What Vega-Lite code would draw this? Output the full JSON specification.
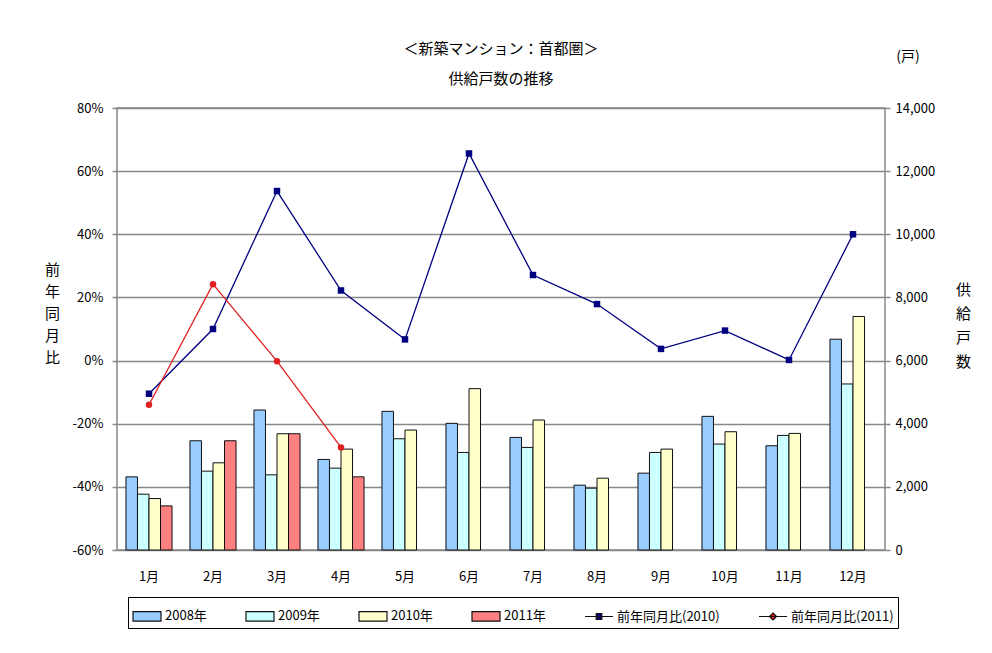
{
  "$schema": "https://vega.github.io/schema/vega-lite/v6.json",
  "width": 768,
  "height": 442,
  "autosize": {"type": "none"},
  "padding": {"left": 117, "top": 108, "right": 107, "bottom": 103},
  "background": "white",
  "config": {
    "font": "Noto Sans CJK JP",
    "view": {"stroke": "#888888", "strokeWidth": 1.5},
    "axis": {"labelFont": "Noto Sans CJK JP", "labelFontSize": 13, "labelColor": "#000", "titleFont": "Noto Sans CJK JP", "titleFontWeight": "normal", "titleColor": "#000"},
    "legend": {"symbolType": "M-1,-0.34H1V0.34H-1Z"}
  },
  "title": {
    "text": ["＜新築マンション：首都圏＞", "供給戸数の推移"],
    "fontSize": 15, "fontWeight": "normal", "lineHeight": 30, "offset": -37, "anchor": "middle", "color": "#000", "font": "Noto Sans CJK JP"
  },
  "datasets": {
    "bars": [
      {"month": "1月", "series": "2008年", "count": 2317}, {"month": "1月", "series": "2009年", "count": 1768}, {"month": "1月", "series": "2010年", "count": 1630}, {"month": "1月", "series": "2011年", "count": 1397},
      {"month": "2月", "series": "2008年", "count": 3460}, {"month": "2月", "series": "2009年", "count": 2497}, {"month": "2月", "series": "2010年", "count": 2762}, {"month": "2月", "series": "2011年", "count": 3460},
      {"month": "3月", "series": "2008年", "count": 4434}, {"month": "3月", "series": "2009年", "count": 2381}, {"month": "3月", "series": "2010年", "count": 3683}, {"month": "3月", "series": "2011年", "count": 3683},
      {"month": "4月", "series": "2008年", "count": 2868}, {"month": "4月", "series": "2009年", "count": 2593}, {"month": "4月", "series": "2010年", "count": 3196}, {"month": "4月", "series": "2011年", "count": 2317},
      {"month": "5月", "series": "2008年", "count": 4392}, {"month": "5月", "series": "2009年", "count": 3524}, {"month": "5月", "series": "2010年", "count": 3799},
      {"month": "6月", "series": "2008年", "count": 4011}, {"month": "6月", "series": "2009年", "count": 3090}, {"month": "6月", "series": "2010年", "count": 5111},
      {"month": "7月", "series": "2008年", "count": 3566}, {"month": "7月", "series": "2009年", "count": 3249}, {"month": "7月", "series": "2010年", "count": 4117},
      {"month": "8月", "series": "2008年", "count": 2053}, {"month": "8月", "series": "2009年", "count": 1958}, {"month": "8月", "series": "2010年", "count": 2275},
      {"month": "9月", "series": "2008年", "count": 2434}, {"month": "9月", "series": "2009年", "count": 3090}, {"month": "9月", "series": "2010年", "count": 3196},
      {"month": "10月", "series": "2008年", "count": 4233}, {"month": "10月", "series": "2009年", "count": 3355}, {"month": "10月", "series": "2010年", "count": 3746},
      {"month": "11月", "series": "2008年", "count": 3302}, {"month": "11月", "series": "2009年", "count": 3630}, {"month": "11月", "series": "2010年", "count": 3693},
      {"month": "12月", "series": "2008年", "count": 6677}, {"month": "12月", "series": "2009年", "count": 5259}, {"month": "12月", "series": "2010年", "count": 7397}
    ],
    "lines": [
      {"month": "1月", "series": "前年同月比(2010)", "pct": -10.5}, {"month": "2月", "series": "前年同月比(2010)", "pct": 10}, {"month": "3月", "series": "前年同月比(2010)", "pct": 53.7}, {"month": "4月", "series": "前年同月比(2010)", "pct": 22.2},
      {"month": "5月", "series": "前年同月比(2010)", "pct": 6.7}, {"month": "6月", "series": "前年同月比(2010)", "pct": 65.6}, {"month": "7月", "series": "前年同月比(2010)", "pct": 27.1}, {"month": "8月", "series": "前年同月比(2010)", "pct": 17.9},
      {"month": "9月", "series": "前年同月比(2010)", "pct": 3.7}, {"month": "10月", "series": "前年同月比(2010)", "pct": 9.5}, {"month": "11月", "series": "前年同月比(2010)", "pct": 0.2}, {"month": "12月", "series": "前年同月比(2010)", "pct": 40.0},
      {"month": "1月", "series": "前年同月比(2011)", "pct": -14}, {"month": "2月", "series": "前年同月比(2011)", "pct": 24.2}, {"month": "3月", "series": "前年同月比(2011)", "pct": -0.2}, {"month": "4月", "series": "前年同月比(2011)", "pct": -27.5}
    ],
    "unit": [{"label": "(戸)"}]
  },
  "layer": [
    {
      "layer": [
        {
          "data": {"name": "bars"},
          "mark": {"type": "bar", "stroke": "#111111", "strokeWidth": 1},
          "encoding": {
            "x": {"field": "month", "type": "nominal", "scale": {"domain": ["1月","2月","3月","4月","5月","6月","7月","8月","9月","10月","11月","12月"], "paddingInner": 0.28, "paddingOuter": 0.14},
                  "axis": {"title": null, "domain": false, "ticks": false, "labelPadding": 20, "labelAngle": 0, "labelFontSize": 13}},
            "xOffset": {"field": "series", "type": "nominal", "scale": {"domain": ["2008年","2009年","2010年","2011年"], "paddingInner": 0, "paddingOuter": 0}},
            "y": {"field": "count", "type": "quantitative", "scale": {"domain": [0, 14000], "nice": false},
                  "axis": {"orient": "right", "values": [0,2000,4000,6000,8000,10000,12000,14000], "format": ",.0f", "grid": false, "domain": false, "tickSize": 5, "tickColor": "#888888", "tickWidth": 1.5, "labelPadding": 5,
                           "title": ["供","給","戸","数"], "titleAngle": 0, "titleFontSize": 15, "titleLineHeight": 24, "titleAlign": "center", "titleBaseline": "top", "titleX": 78, "titleY": 174}},
            "color": {"field": "series", "type": "nominal",
                      "scale": {"domain": ["2008年","2009年","2010年","2011年","前年同月比(2010)","前年同月比(2011)"], "range": ["#99CCFF","#CCFFFF","#FFFFCC","#FF8080","#000080","#E02020"]},
                      "legend": {
                        "title": null, "orient": "none", "legendX": 11, "legendY": 489, "direction": "horizontal", "columns": 6,
                        "strokeColor": "#000000", "padding": 4, "fillColor": "#ffffff",
                        "labelFontSize": 13, "labelFont": "Noto Sans CJK JP", "labelColor": "#000", "labelLimit": 300,
                        "symbolSize": 784, "symbolStrokeWidth": 1.2, "columnPadding": 36, "labelOffset": 3, "symbolOpacity": 1,
                        "symbolType": "M-1,-0.34H1V0.34H-1Z",
                        "encode": {"symbols": {
                          "stroke": {"value": {"expr": "datum.value === '前年同月比(2010)' ? '#000080' : datum.value === '前年同月比(2011)' ? '#E02020' : '#111111'"}},
                          "strokeWidth": {"value": 1.3}
                        }}
                      }}
          }
        },
        {
          "data": {"name": "bars"},
          "mark": {"type": "point", "filled": true, "opacity": 0, "size": 1},
          "encoding": {
            "x": {"field": "month", "type": "nominal"},
            "y": {"field": "count", "type": "quantitative"},
            "color": {"field": "series", "type": "nominal"},
            "shape": {"field": "series", "type": "nominal",
                      "scale": {"domain": ["2008年","2009年","2010年","2011年","前年同月比(2010)","前年同月比(2011)"],
                                "range": ["M-1,-0.34H1V0.34H-1Z","M-1,-0.34H1V0.34H-1Z","M-1,-0.34H1V0.34H-1Z","M-1,-0.34H1V0.34H-1Z","M-1,0H1M-0.2,-0.2H0.2V0.2H-0.2Z","M-1,0H1M0,-0.25L0.25,0L0,0.25L-0.25,0Z"]},
                      "legend": {"title": null, "orient": "none", "legendX": 11, "legendY": 489}}
          }
        },
        {
          "data": {"name": "unit"},
          "mark": {"type": "text", "fontSize": 14, "dx": 55, "font": "Noto Sans CJK JP", "color": "#000"},
          "encoding": {
            "x": {"datum": "12月", "type": "nominal"},
            "y": {"datum": 15600, "type": "quantitative"},
            "text": {"field": "label"}
          }
        }
      ]
    },
    {
      "data": {"name": "lines"},
      "layer": [
        {
          "mark": {"type": "line", "strokeWidth": 1.3},
          "encoding": {
            "x": {"field": "month", "type": "nominal", "scale": {"domain": ["1月","2月","3月","4月","5月","6月","7月","8月","9月","10月","11月","12月"]}},
            "y": {"field": "pct", "type": "quantitative", "scale": {"domain": [-60, 80], "nice": false},
                  "axis": {"orient": "left", "values": [-60,-40,-20,0,20,40,60,80], "labelExpr": "datum.value + '%'", "grid": true, "gridColor": "#888888", "gridWidth": 1.5, "domain": false,
                           "tickSize": 5, "tickColor": "#888888", "tickWidth": 1.5, "labelPadding": 9,
                           "title": ["前","年","同","月","比"], "titleAngle": 0, "titleFontSize": 15, "titleLineHeight": 22, "titleAlign": "center", "titleBaseline": "top", "titleX": -65, "titleY": 154}},
            "stroke": {"field": "series", "type": "nominal", "scale": {"domain": ["前年同月比(2010)","前年同月比(2011)"], "range": ["#000080","#E02020"]}, "legend": null}
          }
        },
        {
          "transform": [{"filter": "datum.series === '前年同月比(2010)'"}],
          "mark": {"type": "point", "filled": true, "shape": "square", "size": 42, "opacity": 1, "color": "#000080"},
          "encoding": {
            "x": {"field": "month", "type": "nominal"},
            "y": {"field": "pct", "type": "quantitative"}
          }
        },
        {
          "transform": [{"filter": "datum.series === '前年同月比(2011)'"}],
          "mark": {"type": "point", "filled": true, "shape": "circle", "size": 42, "opacity": 1, "color": "#E02020"},
          "encoding": {
            "x": {"field": "month", "type": "nominal"},
            "y": {"field": "pct", "type": "quantitative"}
          }
        }
      ]
    }
  ],
  "resolve": {"scale": {"y": "independent"}}
}
